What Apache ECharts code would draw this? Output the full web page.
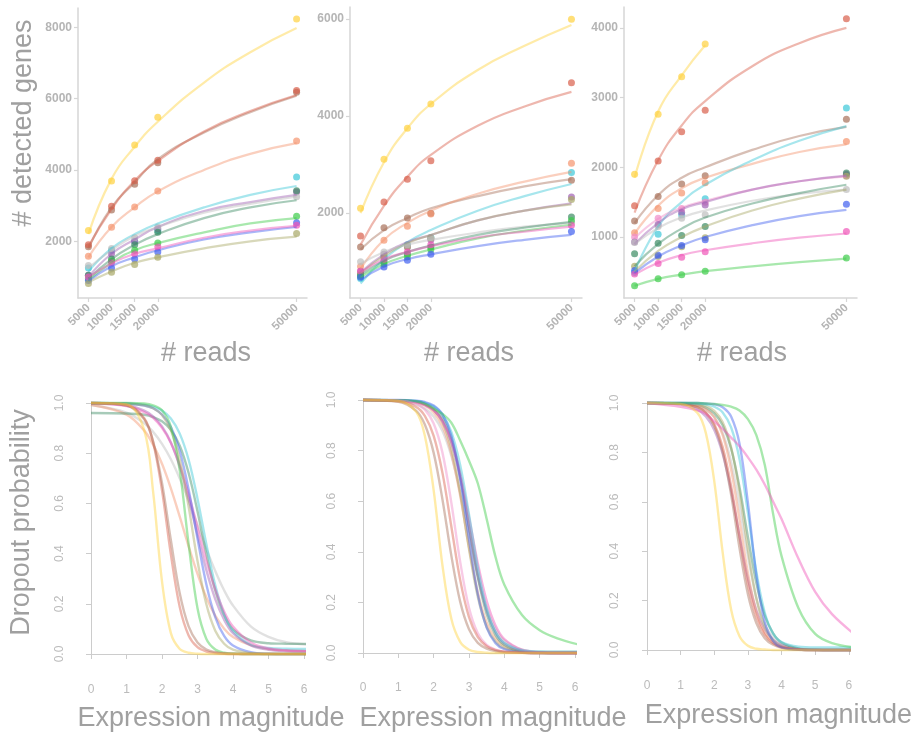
<!DOCTYPE html>
<html><head><meta charset="utf-8">
<script src="https://cdn.jsdelivr.net/npm/echarts@6/dist/echarts.min.js"></script>
<style>html,body{margin:0;padding:0;background:#fff}#c{width:914px;height:736px}</style>
</head><body><div id="c"></div>
<script>
// ---------- DATA ----------
const TOP_READS = [5000, 10000, 15000, 20000, 50000];
const TOP_FIT_READS = [5000, 10000, 15000, 20000, 30000, 40000, 50000];
const TOP_X_TICKS = [5000, 10000, 15000, 20000, 50000];
const TOP1_Y_TICKS = [2000, 4000, 6000, 8000];
const TOP2_Y_TICKS = [2000, 4000, 6000];
const TOP3_Y_TICKS = [1000, 2000, 3000, 4000];

const TOP1_NAMES = ['yellow','brown','red','salmon','cyan','purple','grey','darkgreen','green','blue','pink','olive'];
const TOP1_POINTS = [
  [2300, 3690, 4700, 5480, 8230],
  [1850, 2880, 3600, 4200, 6180],
  [1900, 2980, 3700, 4270, 6230],
  [1580, 2390, 2960, 3410, 4810],
  [1250, 1750, 2000, 2300, 3800],
  [1050, 1650, 2000, 2350, 3380],
  [1320, 1800, 2100, 2400, 3250],
  [1050, 1500, 1900, 2250, 3420],
  [950, 1450, 1750, 1950, 2700],
  [900, 1250, 1500, 1700, 2520],
  [1000, 1400, 1650, 1850, 2450],
  [820, 1130, 1350, 1550, 2220]
];
const TOP1_FITS = [
  [2200, 3750, 4650, 5350, 6450, 7300, 7980],
  [1800, 2950, 3650, 4300, 5050, 5620, 6080],
  [1850, 2900, 3700, 4250, 5080, 5650, 6100],
  [1550, 2400, 2950, 3400, 4000, 4450, 4750],
  [1150, 1800, 2200, 2500, 2950, 3300, 3550],
  [1000, 1650, 2050, 2400, 2850, 3100, 3300],
  [1250, 1750, 2150, 2400, 2800, 3050, 3250],
  [950, 1500, 1900, 2200, 2650, 2950, 3150],
  [900, 1400, 1750, 1950, 2250, 2500, 2650],
  [880, 1300, 1550, 1750, 2050, 2250, 2400],
  [1000, 1380, 1650, 1800, 2100, 2300, 2430],
  [850, 1150, 1400, 1550, 1800, 2000, 2130]
];

const TOP2_NAMES = ['yellow','red','brown','salmon','cyan','purple','olive','grey','darkgreen','green','pink','blue'];
const TOP2_POINTS = [
  [2100, 3110, 3750, 4250, 6000],
  [1530, 2230, 2700, 3080, 4690],
  [1300, 1700, 1900, 2000, 2680],
  [900, 1440, 1730, 1980, 3030],
  [650, 1100, 1350, 1500, 2840],
  [800, 1150, 1300, 1450, 2330],
  [750, 1100, 1300, 1480, 2280],
  [1000, 1200, 1350, 1500, 1800],
  [720, 1000, 1150, 1300, 1920],
  [700, 950, 1100, 1250, 1850],
  [800, 1050, 1200, 1350, 1750],
  [680, 890, 1030, 1150, 1620]
];
const TOP2_FITS = [
  [2000, 3050, 3750, 4250, 4950, 5450, 5880],
  [1350, 2150, 2750, 3200, 3800, 4200, 4500],
  [1250, 1650, 1900, 2100, 2350, 2550, 2700],
  [850, 1450, 1800, 2050, 2400, 2650, 2850],
  [550, 1050, 1400, 1650, 2050, 2350, 2600],
  [780, 1150, 1400, 1550, 1850, 2050, 2200],
  [760, 1120, 1380, 1550, 1850, 2050, 2180],
  [950, 1200, 1350, 1450, 1600, 1720, 1800],
  [720, 1020, 1200, 1330, 1550, 1700, 1820],
  [680, 950, 1120, 1250, 1480, 1640, 1760],
  [780, 1050, 1200, 1320, 1500, 1620, 1720],
  [620, 900, 1050, 1150, 1320, 1450, 1550]
];

const TOP3_NAMES = ['yellow','red','brown','salmon','cyan','violet','purple','grey','darkgreen','olive','blue','pink','green'];
const TOP3_POINTS = [
  [1900, 2760, 3300, 3770, null],
  [1450, 2090, 2510, 2820, 4130],
  [1230, 1580, 1760, 1880, 2690],
  [1060, 1410, 1630, 1780, 2370],
  [490, 1040, 1320, 1550, 2850],
  [1000, 1270, 1410, 1500, 1880],
  [930, 1180, 1350, 1460, 1900],
  [920, 1150, 1270, 1320, 1680],
  [760, 910, 1020, 1150, 1920],
  [580, 720, 860, 990, 1870],
  [520, 740, 880, 960, 1470],
  [470, 620, 710, 790, 1080],
  [300, 400, 460, 510, 700]
];
const TOP3_FITS = [
  [1850, 2800, 3320, 3750, null, null, null],
  [1350, 2100, 2600, 2950, 3450, 3780, 4000],
  [1200, 1600, 1850, 2000, 2250, 2450, 2580],
  [1050, 1450, 1700, 1850, 2050, 2220, 2330],
  [500, 1150, 1500, 1750, 2100, 2380, 2590],
  [980, 1260, 1420, 1520, 1680, 1800, 1870],
  [900, 1200, 1400, 1500, 1680, 1800, 1880],
  [900, 1130, 1280, 1380, 1520, 1620, 1680],
  [580, 900, 1120, 1280, 1480, 1630, 1750],
  [500, 800, 1000, 1150, 1380, 1550, 1680],
  [480, 720, 880, 1000, 1170, 1300, 1390],
  [460, 630, 740, 810, 910, 990, 1050],
  [300, 400, 460, 510, 580, 640, 690]
];

const BOT_X = [0, 1, 1.5, 1.75, 2, 2.25, 2.5, 2.75, 3, 3.25, 3.5, 3.75, 4, 4.5, 5, 5.5, 6.2];

const BOT1_NAMES = ['grey','salmon','darkgreen','cyan','purple','pink','blue','olive','green','red','brown','yellow'];
const BOT1_CURVES = [
  [0.992, 0.962, 0.919, 0.885, 0.837, 0.776, 0.699, 0.611, 0.515, 0.419, 0.331, 0.254, 0.193, 0.110, 0.068, 0.047, 0.036],
  [0.993, 0.954, 0.890, 0.834, 0.758, 0.660, 0.547, 0.429, 0.319, 0.225, 0.153, 0.101, 0.068, 0.035, 0.020, 0.015, 0.012],
  [0.96, 0.958, 0.953, 0.944, 0.927, 0.893, 0.830, 0.721, 0.569, 0.398, 0.253, 0.155, 0.098, 0.054, 0.043, 0.041, 0.040],
  [1, 0.998, 0.993, 0.985, 0.970, 0.938, 0.878, 0.774, 0.619, 0.437, 0.274, 0.159, 0.091, 0.037, 0.024, 0.021, 0.020],
  [0.999, 0.991, 0.970, 0.947, 0.907, 0.843, 0.746, 0.618, 0.475, 0.334, 0.219, 0.137, 0.083, 0.034, 0.017, 0.012, 0.010],
  [0.999, 0.988, 0.964, 0.941, 0.901, 0.841, 0.753, 0.638, 0.505, 0.372, 0.258, 0.169, 0.109, 0.046, 0.022, 0.014, 0.011],
  [1, 0.998, 0.990, 0.979, 0.954, 0.904, 0.808, 0.655, 0.460, 0.277, 0.147, 0.072, 0.034, 0.007, 0.001, 0, 0],
  [1, 0.998, 0.991, 0.979, 0.952, 0.891, 0.774, 0.587, 0.371, 0.198, 0.093, 0.041, 0.017, 0.003, 0, 0, 0],
  [1, 1, 0.998, 0.991, 0.971, 0.905, 0.731, 0.438, 0.182, 0.060, 0.018, 0.005, 0.002, 0, 0, 0, 0],
  [1, 0.992, 0.939, 0.843, 0.652, 0.397, 0.187, 0.074, 0.027, 0.010, 0.004, 0.001, 0, 0, 0, 0, 0],
  [1, 0.990, 0.935, 0.847, 0.681, 0.453, 0.242, 0.110, 0.046, 0.018, 0.007, 0.003, 0.001, 0, 0, 0, 0],
  [1, 0.994, 0.891, 0.646, 0.289, 0.083, 0.020, 0.005, 0.001, 0, 0, 0, 0, 0, 0, 0, 0]
];

const BOT2_NAMES = ['grey','salmon','olive','darkgreen','purple','pink','cyan','blue','green','violet','red','brown','yellow'];
const BOT2_CURVES = [
  [1, 0.996, 0.983, 0.966, 0.935, 0.877, 0.779, 0.636, 0.465, 0.301, 0.177, 0.096, 0.050, 0.013, 0.005, 0.005, 0.005],
  [1, 0.998, 0.990, 0.978, 0.951, 0.896, 0.789, 0.622, 0.418, 0.239, 0.121, 0.057, 0.026, 0.005, 0.001, 0, 0],
  [1, 0.999, 0.994, 0.984, 0.962, 0.912, 0.808, 0.632, 0.411, 0.221, 0.103, 0.045, 0.019, 0.003, 0, 0, 0],
  [1, 0.999, 0.994, 0.986, 0.968, 0.928, 0.846, 0.701, 0.5, 0.299, 0.154, 0.072, 0.032, 0.006, 0.001, 0, 0],
  [1, 0.998, 0.992, 0.982, 0.961, 0.917, 0.832, 0.690, 0.5, 0.310, 0.168, 0.083, 0.039, 0.008, 0.002, 0, 0],
  [1, 0.998, 0.991, 0.980, 0.959, 0.917, 0.839, 0.711, 0.537, 0.354, 0.206, 0.109, 0.055, 0.013, 0.003, 0, 0],
  [1, 0.999, 0.996, 0.990, 0.975, 0.943, 0.874, 0.743, 0.548, 0.336, 0.175, 0.083, 0.040, 0.011, 0.006, 0.005, 0.005],
  [1, 1, 0.997, 0.992, 0.978, 0.943, 0.858, 0.690, 0.450, 0.231, 0.100, 0.039, 0.015, 0.002, 0, 0, 0],
  [1, 0.999, 0.995, 0.985, 0.965, 0.945, 0.91, 0.84, 0.76, 0.67, 0.53, 0.38, 0.27, 0.15, 0.09, 0.058, 0.03],
  [1, 0.998, 0.985, 0.962, 0.907, 0.791, 0.594, 0.361, 0.179, 0.078, 0.032, 0.013, 0.005, 0.001, 0, 0, 0],
  [1, 0.995, 0.973, 0.937, 0.858, 0.711, 0.5, 0.289, 0.142, 0.063, 0.027, 0.011, 0.005, 0.001, 0, 0, 0],
  [1, 0.993, 0.958, 0.903, 0.791, 0.606, 0.385, 0.203, 0.094, 0.040, 0.017, 0.007, 0.003, 0.001, 0, 0, 0],
  [1, 0.996, 0.954, 0.859, 0.643, 0.345, 0.135, 0.044, 0.013, 0.004, 0.001, 0, 0, 0, 0, 0, 0]
];

const BOT3_NAMES = ['grey','purple','darkgreen','olive','salmon','brown','red','cyan','blue','green','pink','yellow'];
const BOT3_CURVES = [
  [1, 0.998, 0.989, 0.974, 0.943, 0.879, 0.761, 0.582, 0.378, 0.211, 0.104, 0.049, 0.022, 0.004, 0.001, 0, 0],
  [1, 0.994, 0.973, 0.945, 0.891, 0.794, 0.646, 0.463, 0.289, 0.161, 0.083, 0.041, 0.020, 0.004, 0.001, 0, 0],
  [1, 0.998, 0.992, 0.981, 0.958, 0.910, 0.816, 0.659, 0.458, 0.271, 0.140, 0.067, 0.030, 0.006, 0.001, 0, 0],
  [1, 0.999, 0.995, 0.988, 0.968, 0.922, 0.821, 0.639, 0.406, 0.209, 0.093, 0.038, 0.015, 0.002, 0, 0, 0],
  [1, 0.998, 0.990, 0.976, 0.943, 0.870, 0.731, 0.527, 0.312, 0.156, 0.070, 0.030, 0.012, 0.002, 0, 0, 0],
  [1, 0.997, 0.982, 0.959, 0.907, 0.802, 0.629, 0.413, 0.226, 0.109, 0.048, 0.021, 0.009, 0.002, 0, 0, 0],
  [1, 0.997, 0.983, 0.962, 0.915, 0.822, 0.664, 0.458, 0.265, 0.134, 0.062, 0.027, 0.012, 0.002, 0, 0, 0],
  [1, 1, 0.998, 0.995, 0.985, 0.962, 0.901, 0.772, 0.555, 0.317, 0.151, 0.066, 0.032, 0.013, 0.01, 0.01, 0.01],
  [1, 1, 1, 0.998, 0.995, 0.983, 0.945, 0.835, 0.596, 0.303, 0.113, 0.036, 0.011, 0.001, 0, 0, 0],
  [1, 1, 1, 0.998, 0.996, 0.992, 0.985, 0.97, 0.935, 0.87, 0.75, 0.55, 0.38, 0.17, 0.065, 0.028, 0.01],
  [1, 0.985, 0.970, 0.955, 0.925, 0.895, 0.86, 0.825, 0.78, 0.73, 0.67, 0.60, 0.53, 0.37, 0.235, 0.145, 0.06],
  [1, 0.996, 0.960, 0.878, 0.683, 0.394, 0.164, 0.056, 0.017, 0.005, 0.002, 0, 0, 0, 0, 0, 0]
];

// ---------- STYLE ----------
const COLORS = {
  yellow:'#FFD23F', red:'#D9604C', brown:'#A8705A', salmon:'#F5946E', cyan:'#3CC8D8',
  purple:'#A060B4', violet:'#F08CC8', grey:'#BDBDBD', darkgreen:'#3C8C64', olive:'#A8A866',
  green:'#3DCC4A', blue:'#4060F0', pink:'#F055B8'
};
const FONT = 'Liberation Sans';
const AX_COL = '#d6d6d6';
const TITLE_COL = '#a0a0a0';

const TOP_GRIDS = [
  {left:78, top:8, width:229, height:290},
  {left:350, top:7, width:232, height:291},
  {left:624, top:7, width:233, height:291}
];
const TOP_YR = [[410, 8540], [250, 6250], [125, 4300]];
const TOP_YT = [TOP1_Y_TICKS, TOP2_Y_TICKS, TOP3_Y_TICKS];
const TOP_NAMEPAD = [27, 6, 3];

const BOT_GRIDS = [
  {left:91, top:403, width:213, height:251},
  {left:363, top:400, width:212, height:253},
  {left:647, top:403, width:207, height:247}
];
const BOT_XOFF = [11, 10, 11];
const BOT_YOFF = [8, 8, 9];
const BOT_NAMEPAD = [27, 48, 61];
const BOT_NAMEGAP = [40, 42, 41];

const grids = [], xAxes = [], yAxes = [], series = [];
const plain = v => String(v);

TOP_GRIDS.forEach((g, i) => {
  grids.push(g);
  xAxes.push({
    gridIndex: i, type: 'value', min: 2750, max: 52250,
    axisLine: {show: true, lineStyle: {color: AX_COL, width: 1.5}},
    axisTick: {show: true, customValues: TOP_X_TICKS, length: 4, lineStyle: {color: AX_COL, width: 1.2}},
    axisLabel: {customValues: TOP_X_TICKS, formatter: plain, rotate: 45, margin: 8, color: '#b5b5b5', fontSize: 11.5, fontWeight: 'bold', fontFamily: FONT},
    splitLine: {show: false},
    name: '# reads', nameLocation: 'middle', nameGap: 42,
    nameTextStyle: {fontSize: 27, color: TITLE_COL, fontFamily: FONT, padding: [0, 0, 0, TOP_NAMEPAD[i]]}
  });
  const ya = {
    gridIndex: i, type: 'value', min: TOP_YR[i][0], max: TOP_YR[i][1],
    axisLine: {show: true, lineStyle: {color: AX_COL, width: 1.5}},
    axisTick: {show: true, customValues: TOP_YT[i], length: 4, lineStyle: {color: AX_COL, width: 1.2}},
    axisLabel: {customValues: TOP_YT[i], formatter: plain, margin: 6, color: '#b5b5b5', fontSize: 12, fontWeight: 'bold', fontFamily: FONT},
    splitLine: {show: false}
  };
  if (i === 0) {
    Object.assign(ya, {
      name: '# detected genes', nameLocation: 'middle', nameGap: 41,
      nameTextStyle: {fontSize: 27, color: TITLE_COL, fontFamily: FONT, padding: [0, 0, 0, 60]}
    });
  }
  yAxes.push(ya);
});

BOT_GRIDS.forEach((g, j) => {
  const i = j + 3;
  grids.push(g);
  xAxes.push({
    gridIndex: i, type: 'value', min: 0, max: 6, interval: 1, offset: BOT_XOFF[j],
    axisLine: {show: true, lineStyle: {color: '#cccccc', width: 1}},
    axisTick: {show: true, length: 5, lineStyle: {color: '#cccccc'}},
    axisLabel: {margin: 19, color: '#bbbbbb', fontSize: 12, fontFamily: FONT},
    splitLine: {show: false},
    name: 'Expression magnitude', nameLocation: 'middle', nameGap: BOT_NAMEGAP[j],
    nameTextStyle: {fontSize: 27, color: TITLE_COL, fontFamily: FONT, padding: [0, 0, 0, BOT_NAMEPAD[j]]}
  });
  const ya = {
    gridIndex: i, type: 'value', min: 0, max: 1, interval: 0.2, offset: BOT_YOFF[j],
    axisLine: {show: true, lineStyle: {color: '#cccccc', width: 1}},
    axisTick: {show: true, length: 5, lineStyle: {color: '#cccccc'}},
    axisLabel: {rotate: 90, margin: 17, color: '#bbbbbb', fontSize: 12, fontFamily: FONT,
      formatter: v => v.toFixed(1)},
    splitLine: {show: false}
  };
  if (j === 0) {
    Object.assign(ya, {
      name: 'Dropout probability', nameLocation: 'middle', nameGap: 48,
      nameTextStyle: {fontSize: 27, color: TITLE_COL, fontFamily: FONT, padding: [0, 0, 0, 12]}
    });
  }
  yAxes.push(ya);
});

const TOP_SETS = [
  [TOP1_NAMES, TOP1_POINTS, TOP1_FITS],
  [TOP2_NAMES, TOP2_POINTS, TOP2_FITS],
  [TOP3_NAMES, TOP3_POINTS, TOP3_FITS]
];
TOP_SETS.forEach(([names, pts, fits], i) => {
  names.forEach((nm, k) => {
    const c = COLORS[nm];
    series.push({
      type: 'line', xAxisIndex: i, yAxisIndex: i, silent: true,
      data: TOP_FIT_READS.map((x, m) => [x, fits[k][m]]).filter(d => d[1] != null),
      smooth: 0.5, showSymbol: false, symbol: 'none',
      lineStyle: {color: c, width: 2.2, opacity: 0.45}
    });
    series.push({
      type: 'scatter', xAxisIndex: i, yAxisIndex: i, silent: true,
      data: TOP_READS.map((x, m) => [x, pts[k][m]]).filter(d => d[1] != null),
      symbolSize: 7, itemStyle: {color: c, opacity: 0.7}
    });
  });
});

const BOT_SETS = [
  [BOT1_NAMES, BOT1_CURVES],
  [BOT2_NAMES, BOT2_CURVES],
  [BOT3_NAMES, BOT3_CURVES]
];
BOT_SETS.forEach(([names, curves], j) => {
  const i = j + 3;
  names.forEach((nm, k) => {
    series.push({
      type: 'line', xAxisIndex: i, yAxisIndex: i, silent: true, clip: false,
      data: BOT_X.map((x, m) => [x, curves[k][m]]),
      smooth: 0.35, showSymbol: false, symbol: 'none',
      lineStyle: {color: COLORS[nm], width: 2.4, opacity: 0.45}
    });
  });
});

const chart = echarts.init(document.getElementById('c'), null, {renderer: 'canvas'});
chart.setOption({
  backgroundColor: '#ffffff',
  animation: false,
  textStyle: {fontFamily: FONT},
  grid: grids,
  xAxis: xAxes,
  yAxis: yAxes,
  series: series
});
</script>
</body></html>
